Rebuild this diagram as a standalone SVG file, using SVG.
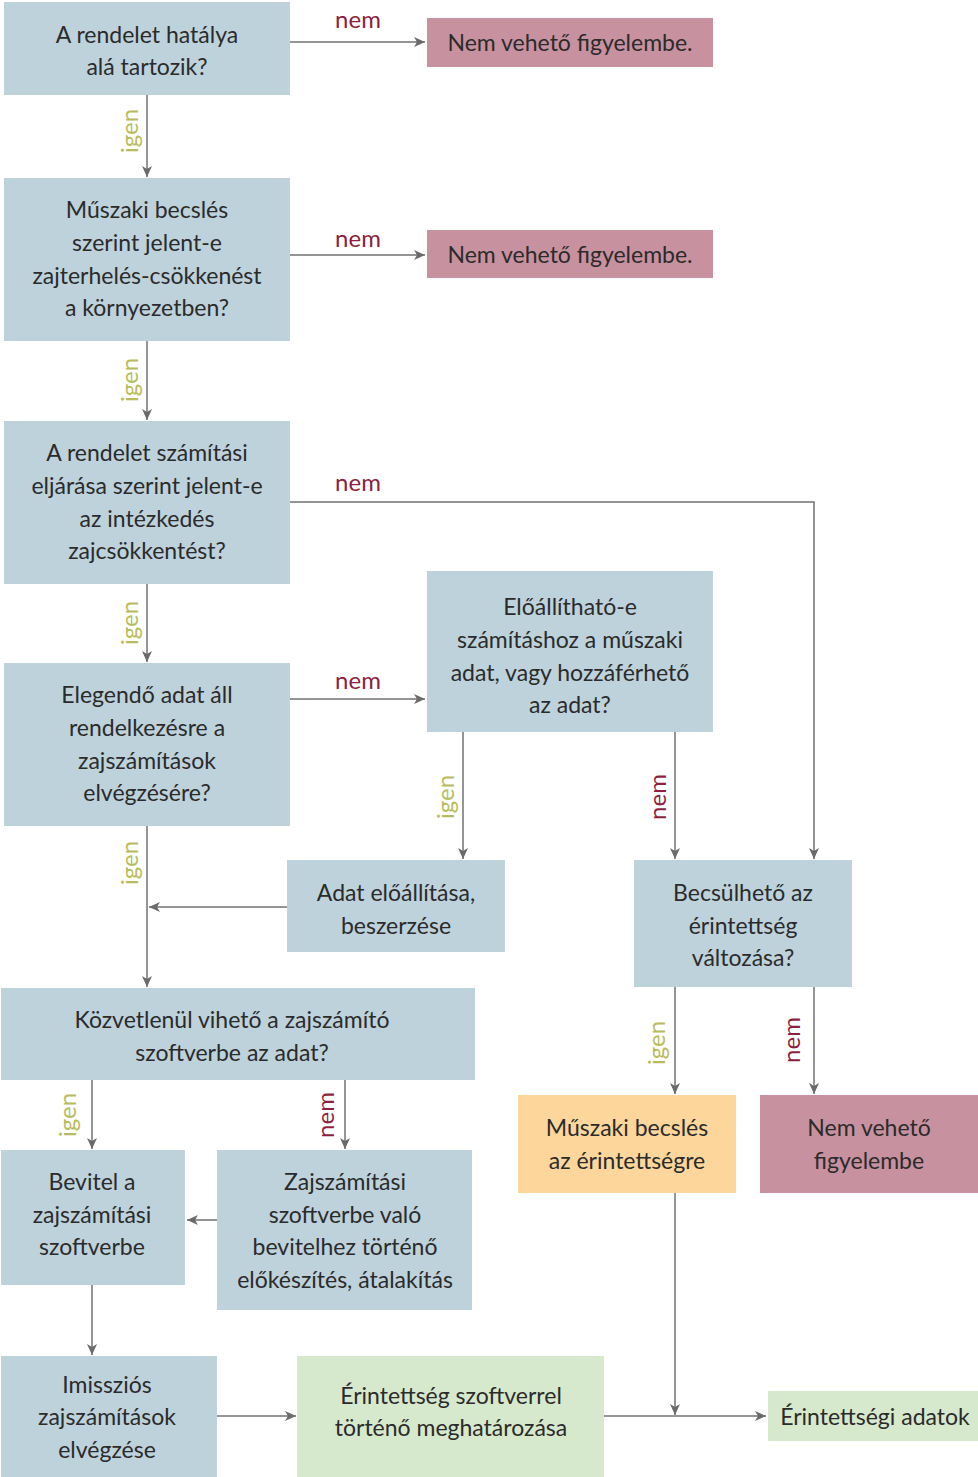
<svg xmlns="http://www.w3.org/2000/svg" width="978" height="1477" viewBox="0 0 978 1477">
<style>
.b{fill:#bdd2db}
.p{fill:#c8919f}
.o{fill:#fdd69c}
.g{fill:#d7e9cc}
text{font-family:Lato,"Liberation Sans",sans-serif;font-size:23px;fill:#2b2b2b;text-anchor:middle}
.nem{fill:#8e1f40;font-size:24px}
.igen{fill:#b8bc5c;font-size:24px}
.c path{fill:none;stroke:#707070;stroke-width:1.5}
</style>
<defs>
<marker id="a" markerUnits="userSpaceOnUse" markerWidth="12" markerHeight="10" refX="11" refY="5" orient="auto">
<path d="M0,0 L11,5 L0,10 L3,5 Z" fill="#6a6a6a"/>
</marker>
</defs>
<g class="c">
<path d="M290,42 H425" marker-end="url(#a)"/>
<path d="M147,95 V177" marker-end="url(#a)"/>
<path d="M290,255 H425" marker-end="url(#a)"/>
<path d="M147,341 V420" marker-end="url(#a)"/>
<path d="M290,502 H814 V859" marker-end="url(#a)"/>
<path d="M147,584 V662" marker-end="url(#a)"/>
<path d="M290,699 H425" marker-end="url(#a)"/>
<path d="M463,732 V859" marker-end="url(#a)"/>
<path d="M675,732 V859" marker-end="url(#a)"/>
<path d="M287,907 H149" marker-end="url(#a)"/>
<path d="M147,826 V987" marker-end="url(#a)"/>
<path d="M675,987 V1094" marker-end="url(#a)"/>
<path d="M814,987 V1094" marker-end="url(#a)"/>
<path d="M92,1080 V1149" marker-end="url(#a)"/>
<path d="M345,1080 V1149" marker-end="url(#a)"/>
<path d="M217,1220 H187" marker-end="url(#a)"/>
<path d="M92,1285 V1355" marker-end="url(#a)"/>
<path d="M217,1416 H296" marker-end="url(#a)"/>
<path d="M604,1416 H766" marker-end="url(#a)"/>
<path d="M675,1193 V1415" marker-end="url(#a)"/>
<text class="nem" x="358" y="28">nem</text>
<text class="nem" x="358" y="247">nem</text>
<text class="nem" x="358" y="491">nem</text>
<text class="nem" x="358" y="689">nem</text>
<text class="igen" transform="translate(138,131) rotate(-90)">igen</text>
<text class="igen" transform="translate(138,380) rotate(-90)">igen</text>
<text class="igen" transform="translate(138,623) rotate(-90)">igen</text>
<text class="igen" transform="translate(138,863) rotate(-90)">igen</text>
<text class="igen" transform="translate(454,797) rotate(-90)">igen</text>
<text class="nem" transform="translate(666,797) rotate(-90)">nem</text>
<text class="igen" transform="translate(665,1043) rotate(-90)">igen</text>
<text class="nem" transform="translate(800,1040) rotate(-90)">nem</text>
<text class="igen" transform="translate(76,1115) rotate(-90)">igen</text>
<text class="nem" transform="translate(334,1115) rotate(-90)">nem</text>
</g>
<g id="n1"><rect class="b" x="4" y="2" width="286" height="93"/><text x="147" y="43">A rendelet hatálya</text><text x="147" y="75">alá tartozik?</text></g>
<g id="n2"><rect class="p" x="427" y="18" width="286" height="49"/><text x="570" y="51">Nem vehető figyelembe.</text></g>
<g id="n3"><rect class="b" x="4" y="178" width="286" height="163"/><text x="147" y="218">Műszaki becslés</text><text x="147" y="251">szerint jelent-e</text><text x="147" y="284">zajterhelés-csökkenést</text><text x="147" y="316">a környezetben?</text></g>
<g id="n4"><rect class="p" x="427" y="230" width="286" height="48"/><text x="570" y="263">Nem vehető figyelembe.</text></g>
<g id="n5"><rect class="b" x="4" y="421" width="286" height="163"/><text x="147" y="461">A rendelet számítási</text><text x="147" y="494">eljárása szerint jelent-e</text><text x="147" y="527">az intézkedés</text><text x="147" y="559">zajcsökkentést?</text></g>
<g id="n6"><rect class="b" x="427" y="571" width="286" height="161"/><text x="570" y="615">Előállítható-e</text><text x="570" y="648">számításhoz a műszaki</text><text x="570" y="681">adat, vagy hozzáférhető</text><text x="570" y="713">az adat?</text></g>
<g id="n7"><rect class="b" x="4" y="663" width="286" height="163"/><text x="147" y="703">Elegendő adat áll</text><text x="147" y="736">rendelkezésre a</text><text x="147" y="769">zajszámítások</text><text x="147" y="801">elvégzésére?</text></g>
<g id="n8"><rect class="b" x="287" y="860" width="218" height="92"/><text x="396" y="901">Adat előállítása,</text><text x="396" y="934">beszerzése</text></g>
<g id="n9"><rect class="b" x="634" y="860" width="218" height="127"/><text x="743" y="901">Becsülhető az</text><text x="743" y="934">érintettség</text><text x="743" y="966">változása?</text></g>
<g id="n10"><rect class="b" x="1" y="988" width="474" height="92"/><text x="232" y="1028">Közvetlenül vihető a zajszámító</text><text x="232" y="1061">szoftverbe az adat?</text></g>
<g id="n11"><rect class="o" x="518" y="1095" width="218" height="98"/><text x="627" y="1136">Műszaki becslés</text><text x="627" y="1169">az érintettségre</text></g>
<g id="n12"><rect class="p" x="760" y="1095" width="218" height="98"/><text x="869" y="1136">Nem vehető</text><text x="869" y="1169">figyelembe</text></g>
<g id="n13"><rect class="b" x="1" y="1150" width="184" height="135"/><text x="92" y="1190">Bevitel a</text><text x="92" y="1223">zajszámítási</text><text x="92" y="1255">szoftverbe</text></g>
<g id="n14"><rect class="b" x="217" y="1150" width="255" height="160"/><text x="345" y="1190">Zajszámítási</text><text x="345" y="1223">szoftverbe való</text><text x="345" y="1255">bevitelhez történő</text><text x="345" y="1288">előkészítés, átalakítás</text></g>
<g id="n15"><rect class="b" x="1" y="1356" width="216" height="121"/><text x="107" y="1393">Imissziós</text><text x="107" y="1425">zajszámítások</text><text x="107" y="1458">elvégzése</text></g>
<g id="n16"><rect class="g" x="297" y="1356" width="307" height="121"/><text x="451" y="1404">Érintettség  szoftverrel</text><text x="451" y="1436">történő meghatározása</text></g>
<g id="n17"><rect class="g" x="768" y="1391" width="210" height="50"/><text x="875" y="1425">Érintettségi adatok</text></g>
</svg>
